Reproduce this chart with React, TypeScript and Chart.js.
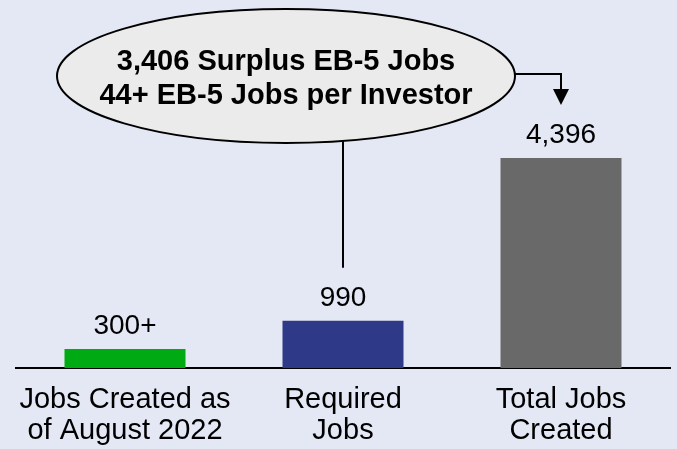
import { useEffect, useRef } from "react";
import { Chart, registerables } from "chart.js";

Chart.register(...registerables);

const categories = [
  ["Jobs Created as", "of August 2022"],
  ["Required", "Jobs"],
  ["Total Jobs", "Created"],
];
const values = [400, 990, 4396];
const valueLabels = ["300+", "990", "4,396"];
const barColors = ["#00AA13", "#2E3A87", "#696969"];
const calloutLines = ["3,406 Surplus EB-5 Jobs", "44+ EB-5 Jobs per Investor"];

const BG = "#E4E8F4";
const FONT = "'Liberation Sans', Arial, Helvetica, sans-serif";
const Y_MAX = 7494;

const overlayPlugin = {
  id: "overlay",
  beforeDraw(chart: any) {
    const ctx = chart.ctx;
    ctx.save();
    ctx.fillStyle = BG;
    ctx.fillRect(0, 0, chart.width, chart.height);
    ctx.restore();
  },
  afterDraw(chart: any) {
    const ctx = chart.ctx;
    const meta = chart.getDatasetMeta(0);
    ctx.save();
    ctx.fillStyle = "#000";
    ctx.font = `28px ${FONT}`;
    ctx.textAlign = "center";
    ctx.textBaseline = "alphabetic";
    meta.data.forEach((bar: any, i: number) => {
      ctx.fillText(valueLabels[i], bar.x, bar.y - 15);
    });

    const cx = 286, cy = 76, rx = 229, ry = 67;
    ctx.strokeStyle = "#000";
    ctx.lineWidth = 2;

    // connector to the "Required" bar label
    const blue = meta.data[1];
    const dx = blue.x - cx;
    const ey = cy + ry * Math.sqrt(Math.max(0, 1 - (dx / rx) ** 2));
    ctx.beginPath();
    ctx.moveTo(blue.x, ey);
    ctx.lineTo(blue.x, blue.y - 53);
    ctx.stroke();

    // elbow arrow to the "Total" bar label
    const gray = meta.data[2];
    const ay = 74;
    const ex = cx + rx * Math.sqrt(Math.max(0, 1 - ((ay - cy) / ry) ** 2));
    const tipY = gray.y - 53;
    ctx.beginPath();
    ctx.moveTo(ex - 2, ay);
    ctx.lineTo(gray.x, ay);
    ctx.lineTo(gray.x, tipY - 14);
    ctx.stroke();
    ctx.beginPath();
    ctx.moveTo(gray.x - 8, tipY - 16);
    ctx.lineTo(gray.x + 8, tipY - 16);
    ctx.lineTo(gray.x, tipY);
    ctx.closePath();
    ctx.fill();

    // callout ellipse
    ctx.beginPath();
    ctx.ellipse(cx, cy, rx, ry, 0, 0, Math.PI * 2);
    ctx.fillStyle = "#EBEBEB";
    ctx.fill();
    ctx.stroke();
    ctx.fillStyle = "#000";
    ctx.font = `bold 29px ${FONT}`;
    ctx.fillText(calloutLines[0], cx, 70);
    ctx.fillText(calloutLines[1], cx, 104);
    ctx.restore();
  },
};

export default function App() {
  const canvasRef = useRef<HTMLCanvasElement | null>(null);

  useEffect(() => {
    if (!canvasRef.current) return;
    const chart = new Chart(canvasRef.current, {
      type: "bar",
      data: {
        labels: categories,
        datasets: [
          {
            data: values,
            backgroundColor: barColors,
            borderWidth: 0,
            categoryPercentage: 1,
            barPercentage: 0.555,
          },
        ],
      },
      options: {
        responsive: false,
        animation: false,
        events: [],
        layout: { padding: { left: 16, right: 7, top: 10, bottom: 0 } },
        plugins: {
          legend: { display: false },
          tooltip: { enabled: false },
          title: { display: false },
        },
        scales: {
          x: {
            grid: { display: false, drawTicks: false },
            border: { display: true, color: "#000", width: 2 },
            ticks: {
              color: "#000",
              font: { family: FONT, size: 29, lineHeight: 31 / 29 },
              padding: 16,
              maxRotation: 0,
              autoSkip: false,
            },
            afterFit(scale: any) {
              scale.height = 81;
            },
          },
          y: { display: false, min: 0, max: Y_MAX },
        },
      },
      plugins: [overlayPlugin],
    });
    return () => chart.destroy();
  }, []);

  return (
    <div style={{ position: "fixed", left: 0, top: 0, width: 677, height: 449, background: BG }}>
      <canvas ref={canvasRef} width={677} height={449} style={{ width: 677, height: 449, display: "block" }} />
    </div>
  );
}
